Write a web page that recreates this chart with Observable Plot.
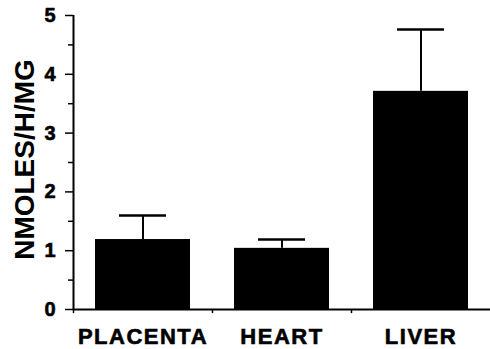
<!DOCTYPE html>
<html><head><meta charset="utf-8">
<script src="https://cdn.jsdelivr.net/npm/d3@7"></script>
<script src="https://cdn.jsdelivr.net/npm/@observablehq/plot@0.6"></script>
<style>
body{margin:0;background:#fff}
g[aria-label="x-axis tick label"] text{letter-spacing:1.5px;stroke:#000;stroke-width:0.6px}
g[aria-label="y-axis tick label"] text{stroke:#000;stroke-width:0.6px}
g[aria-label="y-label"] text{letter-spacing:1px;stroke:#000;stroke-width:0.8px}
</style>
</head><body><div id="chart"></div>
<script>
const categories = ["PLACENTA", "HEART", "LIVER"];
const means = [1.19, 1.04, 3.71];
const errors = [0.41, 0.15, 1.05];
const yTicks = [0, 1, 2, 3, 4, 5];
const yMinorTicks = [0.5, 1.5, 2.5, 3.5, 4.5];
const yLabel = "NMOLES/H/MG";

const data = categories.map((c, i) => ({tissue: c, mean: means[i], upper: means[i] + errors[i]}));
const W = 490, H = 349, mL = 73, mR = 0;
const step = (W - mL - mR) / categories.length;

const chart = Plot.plot({
  width: W, height: H,
  marginLeft: mL, marginRight: mR, marginTop: 15, marginBottom: 40,
  style: {fontFamily: "'Liberation Sans', Arial, sans-serif", fontWeight: "bold", background: "#fff", color: "#000"},
  x: {domain: categories, paddingInner: 0.32, paddingOuter: 0.16, axis: null},
  y: {domain: [0, 5], axis: null},
  marks: [
    Plot.barY(data, {x: "tissue", y: "mean", fill: "#000"}),
    Plot.ruleX(data, {x: "tissue", y1: "mean", y2: "upper", stroke: "#000", strokeWidth: 2}),
    Plot.tickY(data, {x: "tissue", y: "upper", stroke: "#000", strokeWidth: 2.5, insetLeft: 24, insetRight: 24}),
    Plot.ruleY([0], {stroke: "#000", strokeWidth: 2}),
    Plot.ruleX(categories.slice(0, 1), {x: d => d, dx: -step / 2, y1: 0, y2: 5, stroke: "#000", strokeWidth: 2}),
    Plot.ruleX(categories, {x: d => d, dx: -step / 2, y1: 0, y2: -0.07, stroke: "#000", strokeWidth: 1.5}),
    Plot.axisY(yTicks, {tickSize: 8, tickPadding: 10, fontSize: 20, label: null, strokeWidth: 1.5, tickFormat: d => String(d)}),
    Plot.axisY(yMinorTicks, {tickSize: 5, tickFormat: () => "", label: null, strokeWidth: 1.5}),
    Plot.axisX({tickSize: 0, tickPadding: 19, fontSize: 22, label: null}),
    Plot.text([yLabel], {text: d => d, frameAnchor: "left", textAnchor: "middle", rotate: -90, dx: -40, dy: -3, fontSize: 28, lineAnchor: "bottom", ariaLabel: "y-label"})
  ]
});
document.getElementById("chart").appendChild(chart);
</script>
</body></html>
